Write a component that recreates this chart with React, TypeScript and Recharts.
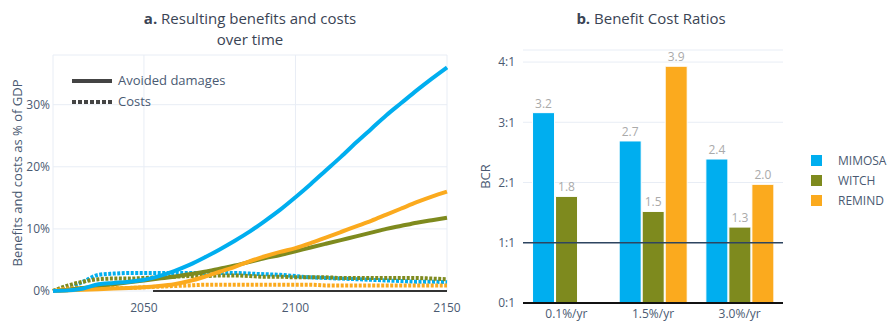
import {
  LineChart,
  Line,
  BarChart,
  Bar,
  XAxis,
  YAxis,
  CartesianGrid,
  ReferenceLine,
  LabelList,
} from "recharts";

const years = [2020, 2025, 2030, 2035, 2040, 2045, 2050, 2055, 2060, 2065, 2070, 2075, 2080, 2085, 2090, 2095, 2100, 2105, 2110, 2115, 2120, 2125, 2130, 2135, 2140, 2145, 2150];

// avoided damages, % of GDP
const mimosaBenefit = [0, 0.1, 0.4, 1.1, 1.3, 1.5, 1.8, 2.4, 3.2, 4.2, 5.4, 6.7, 8.1, 9.6, 11.3, 13.1, 15.1, 17.2, 19.4, 21.6, 23.9, 26.1, 28.3, 30.3, 32.3, 34.2, 36.0];
const witchBenefit = [0, 0.2, 0.5, 0.8, 1.1, 1.4, 1.7, 2.0, 2.3, 2.7, 3.1, 3.6, 4.1, 4.7, 5.3, 5.8, 6.4, 7.0, 7.6, 8.2, 8.8, 9.4, 10.0, 10.5, 11.0, 11.4, 11.8];
const remindBenefit = [0, 0.1, 0.2, 0.3, 0.4, 0.5, 0.6, 0.8, 1.1, 1.6, 2.3, 3.1, 3.9, 4.8, 5.6, 6.3, 6.9, 7.7, 8.6, 9.5, 10.4, 11.3, 12.3, 13.3, 14.3, 15.2, 16.0];

// costs, % of GDP
const mimosaCost = [0, 0.4, 1.5, 2.6, 2.8, 2.9, 2.9, 2.9, 2.9, 2.9, 2.9, 2.9, 2.9, 2.8, 2.7, 2.6, 2.4, 2.2, 2.1, 2.0, 1.9, 1.8, 1.7, 1.6, 1.5, 1.5, 1.4];
const witchCost = [0, 0.9, 1.5, 1.9, 2.0, 2.0, 2.1, 2.2, 2.3, 2.4, 2.4, 2.5, 2.5, 2.4, 2.3, 2.3, 2.2, 2.2, 2.2, 2.1, 2.1, 2.1, 2.1, 2.1, 2.1, 2.0, 1.9];
const remindCost = [0, 0.4, 0.5, 0.5, 0.5, 0.5, 0.6, 0.7, 0.8, 0.9, 1.0, 1.0, 1.0, 1.0, 1.0, 1.0, 1.0, 1.0, 0.9, 0.9, 0.9, 0.9, 0.9, 0.9, 0.9, 0.9, 0.9];

const zeroLineStart = 2053;

const rates = ["0.1%/yr", "1.5%/yr", "3.0%/yr"];
const mimosaBcr = [3.16, 2.69, 2.39];
const witchBcr = [1.77, 1.52, 1.26];
const remindBcr = [null, 3.93, 1.97];

const BLUE = "#00aeef";
const GREEN = "#7e8a1e";
const ORANGE = "#fbaa1e";
const TICK = "#4a5a72";
const TITLE = "#3a4454";
const FONT = "'Open Sans', sans-serif";

const models = [
  { name: "MIMOSA", color: BLUE },
  { name: "WITCH", color: GREEN },
  { name: "REMIND", color: ORANGE },
];

const lineData = years.map((y, i) => ({
  year: y,
  mimosaB: mimosaBenefit[i],
  witchB: witchBenefit[i],
  remindB: remindBenefit[i],
  mimosaC: mimosaCost[i],
  witchC: witchCost[i],
  remindC: remindCost[i],
}));

const barData = rates.map((r, i) => ({
  rate: r,
  MIMOSA: mimosaBcr[i],
  WITCH: witchBcr[i],
  REMIND: remindBcr[i],
}));

const tickStyle = { fill: TICK, fontSize: 12, fontFamily: FONT };
const fmt1 = (v: any) => (v == null ? "" : Number(v).toFixed(1));

export default function App() {
  return (
    <div style={{ position: "absolute", left: 0, top: 0, width: 891, height: 323, background: "#fff", fontFamily: FONT }}>
      <div style={{ position: "absolute", left: 50, width: 400, top: 8, textAlign: "center", fontSize: 15, lineHeight: "21px", color: TITLE }}>
        <b>a.</b> Resulting benefits and costs
        <br />
        over time
      </div>
      <div style={{ position: "absolute", left: 470, width: 362, top: 8, textAlign: "center", fontSize: 15, lineHeight: "21px", color: TITLE }}>
        <b>b.</b> Benefit Cost Ratios
      </div>

      <div style={{ position: "absolute", left: 0, top: 0 }}>
        <LineChart width={470} height={323} data={lineData} margin={{ top: 55, right: 23, bottom: 10, left: 0 }}>
          <CartesianGrid stroke="#e8edf5" vertical horizontal />
          <XAxis
            dataKey="year"
            type="number"
            domain={[2020, 2150]}
            ticks={[2050, 2100, 2150]}
            axisLine={false}
            tickLine={false}
            tick={tickStyle}
            tickSize={0}
            tickMargin={12}
            height={22}
          />
          <YAxis
            type="number"
            domain={[0, 38]}
            ticks={[0, 10, 20, 30]}
            axisLine={false}
            tickLine={false}
            tick={tickStyle}
            tickFormatter={(v) => `${v}%`}
            width={53}
            tickSize={0}
            tickMargin={3}
            label={{
              value: "Benefits and costs as % of GDP",
              angle: -90,
              position: "insideLeft",
              offset: 17,
              style: { textAnchor: "middle", fill: TICK, fontSize: 13, fontFamily: FONT },
            }}
          />
          <ReferenceLine
            segment={[{ x: zeroLineStart, y: 0 }, { x: 2150, y: 0 }]}
            stroke="#333"
            strokeWidth={2}
            ifOverflow="visible"
          />
          <Line dataKey="mimosaC" stroke={BLUE} strokeWidth={4} strokeDasharray="3 1.5" dot={false} isAnimationActive={false} type="monotone" />
          <Line dataKey="witchC" stroke={GREEN} strokeWidth={4} strokeDasharray="3 1.5" dot={false} isAnimationActive={false} type="monotone" />
          <Line dataKey="remindC" stroke={ORANGE} strokeWidth={4} strokeDasharray="3 1.5" dot={false} isAnimationActive={false} type="monotone" />
          <Line dataKey="witchB" stroke={GREEN} strokeWidth={4} dot={false} isAnimationActive={false} type="monotone" />
          <Line dataKey="remindB" stroke={ORANGE} strokeWidth={4} dot={false} isAnimationActive={false} type="monotone" />
          <Line dataKey="mimosaB" stroke={BLUE} strokeWidth={4} dot={false} isAnimationActive={false} type="monotone" />
        </LineChart>
      </div>

      <div style={{ position: "absolute", left: 72, top: 70, fontSize: 13, color: TICK, lineHeight: "21px" }}>
        <div style={{ display: "flex", alignItems: "center" }}>
          <svg width={40} height={6} style={{ marginRight: 6 }}>
            <line x1={0} y1={3} x2={40} y2={3} stroke="#444" strokeWidth={4} />
          </svg>
          Avoided damages
        </div>
        <div style={{ display: "flex", alignItems: "center" }}>
          <svg width={40} height={6} style={{ marginRight: 6 }}>
            <line x1={0} y1={3} x2={40} y2={3} stroke="#444" strokeWidth={4} strokeDasharray="4 2" />
          </svg>
          Costs
        </div>
      </div>

      <div style={{ position: "absolute", left: 470, top: 0 }}>
        <BarChart
          width={421}
          height={323}
          data={barData}
          margin={{ top: 50, right: 108, bottom: 0, left: 0 }}
          barCategoryGap="11%"
          barGap={1}
        >
          <CartesianGrid stroke="#e8edf5" vertical={false} />
          <XAxis
            dataKey="rate"
            axisLine={false}
            tickLine={false}
            tick={tickStyle}
            tickSize={0}
            tickMargin={6}
            height={20}
          />
          <YAxis
            type="number"
            domain={[0, 4.2]}
            ticks={[0, 1, 2, 3, 4]}
            axisLine={false}
            tickLine={false}
            tick={tickStyle}
            tickFormatter={(v) => `${v}:1`}
            width={53}
            tickSize={0}
            tickMargin={8}
            label={{
              value: "BCR",
              angle: -90,
              position: "insideLeft",
              offset: 15,
              style: { textAnchor: "middle", fill: TICK, fontSize: 13, fontFamily: FONT },
            }}
          />
          <ReferenceLine y={0} stroke="#111" strokeWidth={2} ifOverflow="visible" />
          {models.map((m) => (
            <Bar key={m.name} dataKey={m.name} fill={m.color} stroke="#fff" strokeWidth={1} isAnimationActive={false}>
              <LabelList dataKey={m.name} position="top" formatter={fmt1} fill="#aaa" fontSize={12} fontFamily={FONT} />
            </Bar>
          ))}
          <ReferenceLine y={1} stroke="#2e4560" strokeWidth={1.5} />
        </BarChart>
      </div>

      <div style={{ position: "absolute", left: 811, top: 150, fontSize: 12, color: TICK }}>
        {models.map((m) => (
          <div key={m.name} style={{ display: "flex", alignItems: "center", height: 20 }}>
            <span style={{ width: 11, height: 11, background: m.color, display: "inline-block", marginRight: 16 }} />
            {m.name}
          </div>
        ))}
      </div>
    </div>
  );
}
